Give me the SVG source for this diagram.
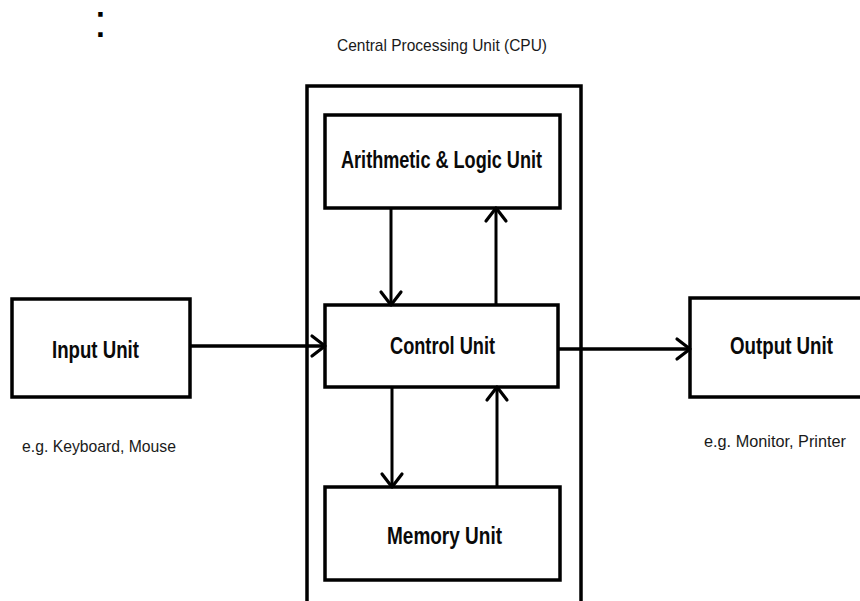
<svg xmlns="http://www.w3.org/2000/svg" width="860" height="601" viewBox="0 0 860 601">
  <style>
    .box { fill: #ffffff; stroke: #000000; stroke-width: 3.5; }
    .frame { fill: none; stroke: #000000; stroke-width: 3.5; }
    .label { font-family: "Liberation Sans Narrow", "Liberation Sans", Arial, sans-serif; font-weight: bold; font-size: 24px; fill: #0a0a0a; text-anchor: middle; }
    .note { font-family: "Liberation Sans Narrow", "Liberation Sans", Arial, sans-serif; font-size: 17px; fill: #1a1a1a; text-anchor: middle; }
    .link { fill: none; stroke: #000000; stroke-width: 3; marker-end: url(#chevron); }
    .link.wide { stroke-width: 3.5; }
  </style>
  <defs>
    <marker id="chevron" markerUnits="userSpaceOnUse" viewBox="-16 -14 20 28" refX="0" refY="0" markerWidth="20" markerHeight="28" orient="auto">
      <path d="M -13 -10 L 0 0 L -13 10" fill="none" stroke="#000000" stroke-width="3.2" stroke-linejoin="round" stroke-linecap="round"/>
    </marker>
  </defs>
  <rect width="860" height="601" fill="#ffffff"/>

  <!-- stray colon in the top-left corner -->
  <text x="100.5" y="36.5" font-family="Liberation Sans, Arial, sans-serif" font-size="46" text-anchor="middle" fill="#000000">:</text>

  <!-- CPU enclosure -->
  <g id="cpu">
    <text class="note" x="442" y="51" font-size="19" textLength="210" lengthAdjust="spacingAndGlyphs">Central Processing Unit (CPU)</text>
    <rect class="frame" x="307" y="86" width="274" height="560"/>
  </g>

  <g id="alu">
    <rect class="box" x="325" y="115" width="235" height="93"/>
    <text class="label" x="441.5" y="168" textLength="201" lengthAdjust="spacingAndGlyphs">Arithmetic &amp; Logic Unit</text>
  </g>

  <g id="control">
    <rect class="box" x="325" y="305" width="233" height="82"/>
    <text class="label" x="442.5" y="354" textLength="105" lengthAdjust="spacingAndGlyphs">Control Unit</text>
  </g>

  <g id="memory">
    <rect class="box" x="325" y="487" width="235" height="93"/>
    <text class="label" x="444.5" y="544" textLength="115" lengthAdjust="spacingAndGlyphs">Memory Unit</text>
  </g>

  <g id="input">
    <rect class="box" x="12" y="299" width="178" height="98"/>
    <text class="label" x="95.5" y="358" textLength="87" lengthAdjust="spacingAndGlyphs">Input Unit</text>
    <text class="note" x="99" y="452" textLength="154" lengthAdjust="spacingAndGlyphs">e.g. Keyboard, Mouse</text>
  </g>

  <g id="output">
    <rect class="box" x="690" y="298" width="210" height="99"/>
    <text class="label" x="781.5" y="354" textLength="103" lengthAdjust="spacingAndGlyphs">Output Unit</text>
    <text class="note" x="775" y="447" textLength="142" lengthAdjust="spacingAndGlyphs">e.g. Monitor, Printer</text>
  </g>

  <g id="connectors">
    <line class="link wide" x1="190" y1="346" x2="325" y2="346"/>
    <line class="link wide" x1="558" y1="349" x2="690" y2="349"/>
    <line class="link" x1="391" y1="208" x2="391" y2="305"/>
    <line class="link" x1="496" y1="305" x2="496" y2="208"/>
    <line class="link" x1="392" y1="387" x2="392" y2="487"/>
    <line class="link" x1="497" y1="487" x2="497" y2="387"/>
  </g>
</svg>
